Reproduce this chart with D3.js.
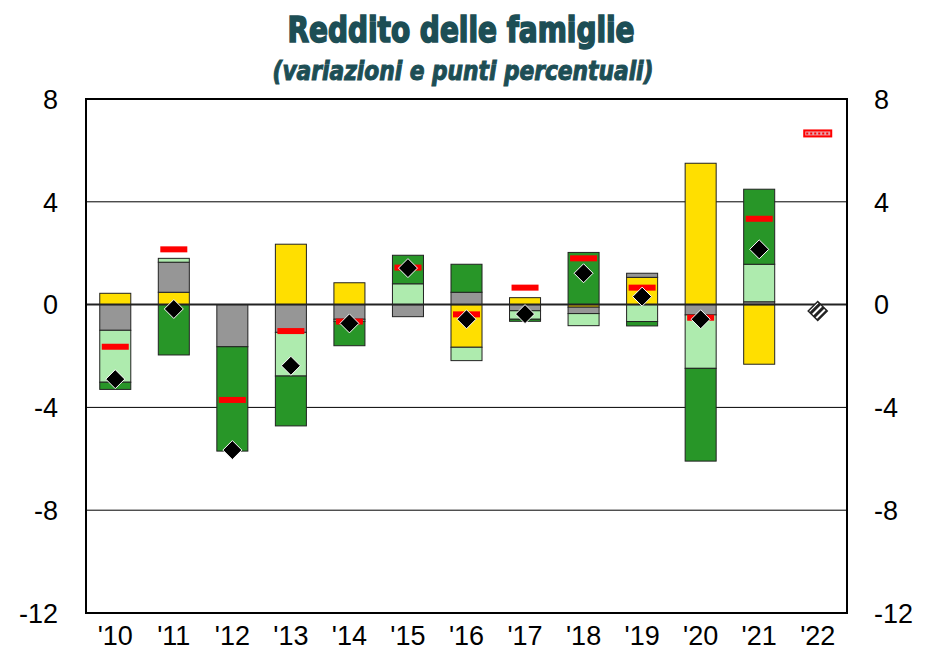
<!DOCTYPE html>
<html>
<head>
<meta charset="utf-8">
<script src="https://cdn.jsdelivr.net/npm/d3@7"></script>
<style>
  body { margin: 0; background: #fff; }
  svg { display: block; }
</style>
</head>
<body>
<div id="chart"></div>
<script>
const years = ["'10", "'11", "'12", "'13", "'14", "'15", "'16", "'17", "'18", "'19", "'20", "'21", "'22"];
// contributi (punti percentuali)
const yellowVals = [0.44, 0.48, 0, 2.35, 0.85, 0, -1.66, 0.27, -0.10, 1.06, 5.50, -2.32, null];
const grayVals = [-1.00, 1.17, -1.64, -1.08, -0.57, -0.47, 0.48, -0.24, -0.25, 0.16, -0.40, 0.11, null];
const lightGreenVals = [-2.02, 0.15, 0, -1.70, -0.08, 0.81, -0.52, -0.33, -0.47, -0.66, -2.08, 1.46, null];
const darkGreenVals = [-0.28, -1.96, -4.06, -1.94, -0.95, 1.11, 1.09, -0.08, 2.03, -0.17, -3.61, 2.92, null];
// variazioni
const redVals = [-1.64, 2.15, -3.71, -1.03, -0.66, 1.44, -0.38, 0.66, 1.80, 0.66, -0.51, 3.34, 6.66];
const diamondVals = [-2.90, -0.17, -5.66, -2.38, -0.73, 1.42, -0.57, -0.37, 1.22, 0.31, -0.57, 2.15, -0.25];
const yTicks = [8, 4, 0, -4, -8, -12];

const W = 925, H = 654;
const margin = { top: 99, right: 78, bottom: 41, left: 86 };
const keys = ["yellow", "gray", "lightGreen", "darkGreen"];
const colors = { yellow: "#FFDF00", gray: "#969696", lightGreen: "#AEEBAE", darkGreen: "#289628" };

const rows = years.map((y, i) => ({
  year: y,
  yellow: yellowVals[i] || 0,
  gray: grayVals[i] || 0,
  lightGreen: lightGreenVals[i] || 0,
  darkGreen: darkGreenVals[i] || 0
}));

const series = d3.stack().keys(keys).offset(d3.stackOffsetDiverging)(rows);

const x = d3.scaleBand().domain(years).range([margin.left, W - margin.right]).paddingInner(0.47).paddingOuter(0.235);
const xc = d3.scaleBand().domain(years).range([margin.left, W - margin.right]);
const y = d3.scaleLinear().domain([-12, 8]).range([H - margin.bottom, margin.top]);

const svg = d3.select("#chart").append("svg").attr("width", W).attr("height", H);

const defs = svg.append("defs");
defs.append("pattern")
  .attr("id", "hatch")
  .attr("patternUnits", "userSpaceOnUse")
  .attr("width", 5).attr("height", 5)
  .attr("patternTransform", "rotate(45)")
  .call(p => {
    p.append("rect").attr("width", 5).attr("height", 5).attr("fill", "#fff");
    p.append("rect").attr("width", 3).attr("height", 5).attr("fill", "#222");
  });

// titolo
svg.append("text")
  .attr("x", 461).attr("y", 42)
  .attr("text-anchor", "middle")
  .attr("font-family", "'Liberation Sans Narrow', 'DejaVu Sans Condensed', sans-serif")
  .attr("font-weight", "bold")
  .attr("font-size", 35)
  .attr("fill", "#1D4E55")
  .attr("stroke", "#1D4E55").attr("stroke-width", 1.6)
  .attr("textLength", 347).attr("lengthAdjust", "spacingAndGlyphs")
  .text("Reddito delle famiglie");

svg.append("text")
  .attr("x", 463).attr("y", 80)
  .attr("text-anchor", "middle")
  .attr("font-family", "'Liberation Sans Narrow', 'DejaVu Sans Condensed', sans-serif")
  .attr("font-weight", "bold")
  .attr("font-style", "italic")
  .attr("font-size", 26)
  .attr("fill", "#1D4E55")
  .attr("stroke", "#1D4E55").attr("stroke-width", 1)
  .attr("textLength", 381).attr("lengthAdjust", "spacingAndGlyphs")
  .text("(variazioni e punti percentuali)");

// griglia
svg.append("g")
  .selectAll("line")
  .data([4, -4, -8])
  .join("line")
  .attr("x1", margin.left).attr("x2", W - margin.right)
  .attr("y1", d => y(d)).attr("y2", d => y(d))
  .attr("stroke", "#000").attr("stroke-width", 1);

// barre
svg.append("g")
  .selectAll("g")
  .data(series)
  .join("g")
  .attr("fill", d => colors[d.key])
  .selectAll("rect")
  .data(d => d.filter(s => s[1] - s[0] !== 0))
  .join("rect")
  .attr("x", d => x(d.data.year))
  .attr("y", d => y(Math.max(d[0], d[1])))
  .attr("width", x.bandwidth())
  .attr("height", d => Math.abs(y(d[0]) - y(d[1])))
  .attr("stroke", "#222")
  .attr("stroke-width", 1);

// linea dello zero
svg.append("line")
  .attr("x1", margin.left).attr("x2", W - margin.right)
  .attr("y1", y(0)).attr("y2", y(0))
  .attr("stroke", "#222").attr("stroke-width", 2);

// trattini rossi
const dashW = 27, dashH = 6;
const last = years.length - 1;
const red = svg.append("g");
red.selectAll("rect")
  .data(years.map((yr, i) => ({ year: yr, v: redVals[i], i })))
  .join("rect")
  .attr("x", d => xc(d.year) + xc.bandwidth() / 2 - dashW / 2)
  .attr("y", d => y(d.v) - dashH / 2)
  .attr("width", dashW).attr("height", dashH)
  .attr("fill", d => d.i === last ? "#E8A0A8" : "#FF0000")
  .attr("stroke", d => d.i === last ? "#FF0000" : "none")
  .attr("stroke-width", 2);
// previsione: puntini
red.append("line")
  .datum(last)
  .attr("x1", i => xc(years[i]) + xc.bandwidth() / 2 - dashW / 2 + 2)
  .attr("x2", i => xc(years[i]) + xc.bandwidth() / 2 + dashW / 2 - 2)
  .attr("y1", i => y(redVals[i])).attr("y2", i => y(redVals[i]))
  .attr("stroke", "#FF0000").attr("stroke-width", 2)
  .attr("stroke-dasharray", "2,2");

// rombi
const r = 9.5;
svg.append("g")
  .selectAll("path")
  .data(years.map((yr, i) => ({ year: yr, v: diamondVals[i], i })))
  .join("path")
  .attr("transform", d => `translate(${xc(d.year) + xc.bandwidth() / 2},${y(d.v)})`)
  .attr("d", `M0,${-r}L${r},0L0,${r}L${-r},0Z`)
  .attr("fill", d => d.i === last ? "url(#hatch)" : "#000")
  .attr("stroke", d => d.i === last ? "#222" : "#fff")
  .attr("stroke-width", d => d.i === last ? 1.5 : 1);

// cornice
svg.append("rect")
  .attr("x", margin.left).attr("y", margin.top)
  .attr("width", W - margin.left - margin.right)
  .attr("height", H - margin.top - margin.bottom)
  .attr("fill", "none").attr("stroke", "#000").attr("stroke-width", 2);

// assi
const axisFont = "'Liberation Sans', Arial, sans-serif";
svg.append("g")
  .selectAll("text")
  .data(yTicks)
  .join("text")
  .attr("x", 58).attr("y", d => y(d))
  .attr("dy", "0.36em")
  .attr("text-anchor", "end")
  .attr("font-family", axisFont).attr("font-size", 27)
  .text(d => d);

svg.append("g")
  .selectAll("text")
  .data(yTicks)
  .join("text")
  .attr("x", 874).attr("y", d => y(d))
  .attr("dy", "0.36em")
  .attr("text-anchor", "start")
  .attr("font-family", axisFont).attr("font-size", 27)
  .text(d => d);

svg.append("g")
  .selectAll("text")
  .data(years)
  .join("text")
  .attr("x", d => xc(d) + xc.bandwidth() / 2)
  .attr("y", 645)
  .attr("text-anchor", "middle")
  .attr("font-family", "'Liberation Sans Narrow', " + axisFont)
  .attr("font-size", 27)
  .text(d => d);
</script>
</body>
</html>
